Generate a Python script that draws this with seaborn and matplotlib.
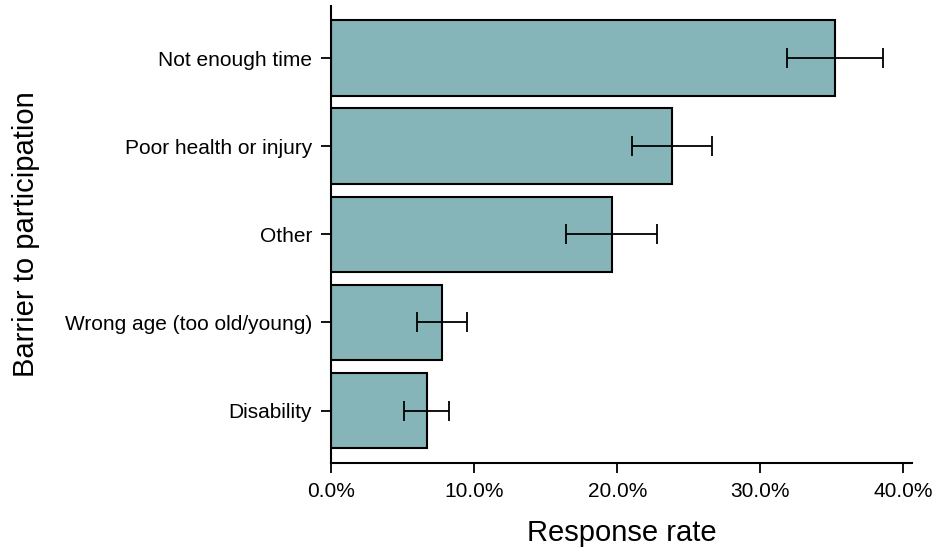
import matplotlib
matplotlib.use("Agg")
import matplotlib.pyplot as plt
import seaborn as sns
import pandas as pd
from matplotlib.ticker import PercentFormatter

barriers = [
    "Not enough time",
    "Poor health or injury",
    "Other",
    "Wrong age (too old/young)",
    "Disability",
]
rate = [0.352, 0.238, 0.196, 0.0775, 0.067]
ci_low = [0.319, 0.210, 0.164, 0.060, 0.051]
ci_high = [0.386, 0.266, 0.228, 0.095, 0.082]

df = pd.DataFrame({"barrier": barriers, "rate": rate})

sns.set_style("ticks")
plt.rcParams["font.family"] = ["Liberation Sans", "DejaVu Sans"]
plt.rcParams["text.color"] = "black"
plt.rcParams["axes.labelcolor"] = "black"
plt.rcParams["xtick.color"] = "black"
plt.rcParams["ytick.color"] = "black"

fig = plt.figure(figsize=(9.4, 5.54), dpi=100)
ax = fig.add_axes([0.3526, 0.165, 0.6174, 0.824])

sns.barplot(
    data=df, x="rate", y="barrier", orient="h",
    color="#85b4b9", saturation=1, width=0.856,
    edgecolor="black", linewidth=1.5, errorbar=None, ax=ax,
)

# asymmetric confidence intervals
xerr = [
    [r - lo for r, lo in zip(rate, ci_low)],
    [hi - r for r, hi in zip(rate, ci_high)],
]
ax.errorbar(
    rate, range(len(barriers)), xerr=xerr, fmt="none",
    ecolor="black", elinewidth=1.3, capsize=7, capthick=1.3,
)

ax.set_xlim(0, 0.406)
ax.set_ylim(len(barriers) - 1 + 0.59, -0.59)
ax.set_xticks([0, 0.1, 0.2, 0.3, 0.4])
ax.xaxis.set_major_formatter(PercentFormatter(1.0, decimals=1))

ax.set_xlabel("Response rate", fontsize=21, labelpad=13)
ax.set_ylabel("Barrier to participation", fontsize=21, labelpad=18)
ax.tick_params(axis="both", labelsize=15, length=7, width=1.3,
               color="black", labelcolor="black", direction="out", pad=7)

sns.despine(ax=ax)
for side in ["left", "bottom"]:
    ax.spines[side].set_linewidth(1.5)
    ax.spines[side].set_color("black")

fig.savefig("out.png", dpi=100)
plt.close(fig)
